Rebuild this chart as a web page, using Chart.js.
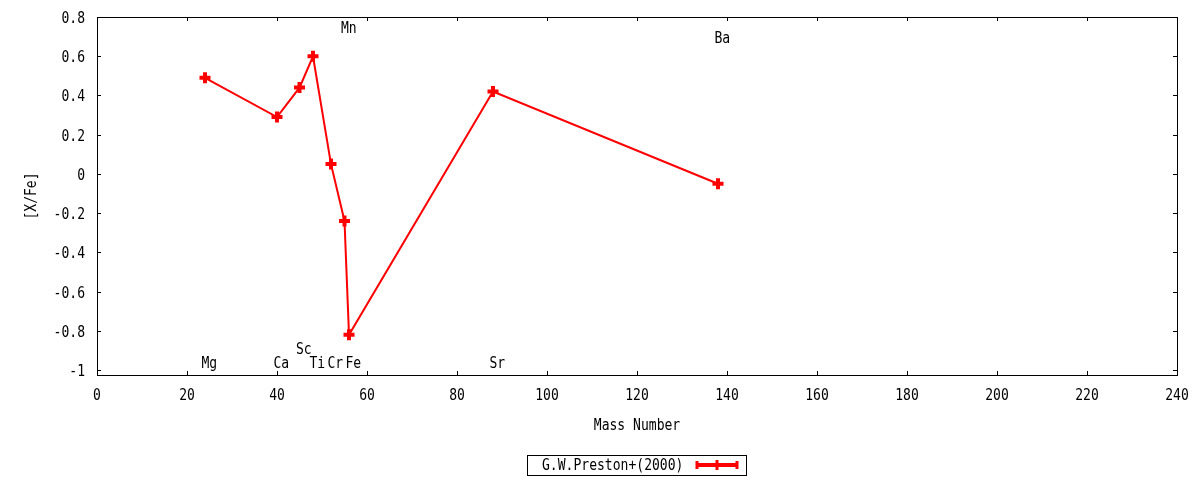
<!DOCTYPE html>
<html>
<head>
<meta charset="utf-8">
<title>[X/Fe] vs Mass Number</title>
<script src="https://cdn.jsdelivr.net/npm/chart.js@4"></script>
<style>
  html, body { margin: 0; padding: 0; background: #fff; }
  #wrap { width: 1200px; height: 480px; }
</style>
</head>
<body>
<div id="wrap"><canvas id="chart"></canvas></div>
<script>
// element abundances, G.W.Preston+(2000)
const elements = ['Mg', 'Ca', 'Sc', 'Ti', 'Cr', 'Mn', 'Fe', 'Sr', 'Ba'];
const massNumber = [24, 40, 45, 48, 52, 55, 56, 88, 138];
const xFe = [0.49, 0.29, 0.44, 0.60, 0.05, -0.24, -0.82, 0.42, -0.05];
// where each element name sits, in [X/Fe] units
const labelY = [-0.96, -0.96, -0.89, -0.96, -0.96, 0.75, -0.96, -0.96, 0.70];

const xTicks = [0, 20, 40, 60, 80, 100, 120, 140, 160, 180, 200, 220, 240];
const xTickLabels = ['0', '20', '40', '60', '80', '100', '120', '140', '160', '180', '200', '220', '240'];
const yTicks = [-1, -0.8, -0.6, -0.4, -0.2, 0, 0.2, 0.4, 0.6, 0.8];
const yTickLabels = ['-1', '-0.8', '-0.6', '-0.4', '-0.2', '0', '0.2', '0.4', '0.6', '0.8'];

const seriesLabel = 'G.W.Preston+(2000)';
const RED = '#ff0000';
const FONT = "15px 'DejaVu Sans Mono'";
const SQUEEZE = 0.87; // gnuplot's narrow mono text

// canvas 'middle' sits a touch high for this font
function text(ctx, str, x, y, align) {
    ctx.save();
    ctx.translate(x, y + 2);
    ctx.scale(SQUEEZE, 1);
    ctx.textAlign = align;
    ctx.fillText(str, 0, 0);
    ctx.restore();
}

const gnuplotFrame = {
    id: 'gnuplotFrame',
    afterDatasetsDraw(chart) {
        const { ctx, chartArea: a, scales: { x, y } } = chart;
        const tick = 4;
        ctx.save();

        // border + mirrored inward ticks
        ctx.strokeStyle = '#000';
        ctx.lineWidth = 1;
        ctx.strokeRect(a.left + 0.5, a.top + 0.5, a.right - a.left, a.bottom - a.top);
        ctx.beginPath();
        xTicks.forEach(v => {
            const px = Math.round(x.getPixelForValue(v)) + 0.5;
            ctx.moveTo(px, a.bottom); ctx.lineTo(px, a.bottom - tick);
            ctx.moveTo(px, a.top); ctx.lineTo(px, a.top + tick);
        });
        yTicks.forEach(v => {
            const py = Math.round(y.getPixelForValue(v)) + 0.5;
            ctx.moveTo(a.left, py); ctx.lineTo(a.left + tick, py);
            ctx.moveTo(a.right, py); ctx.lineTo(a.right - tick, py);
        });
        ctx.stroke();

        ctx.fillStyle = '#000';
        ctx.font = FONT;
        ctx.textBaseline = 'middle';

        // tick labels
        xTicks.forEach((v, i) => text(ctx, xTickLabels[i], x.getPixelForValue(v), a.bottom + 19, 'center'));
        yTicks.forEach((v, i) => text(ctx, yTickLabels[i], a.left - 12, y.getPixelForValue(v), 'right'));

        // element names
        elements.forEach((el, i) => {
            text(ctx, el, x.getPixelForValue(massNumber[i]) - 3.5, y.getPixelForValue(labelY[i]), 'left');
        });

        // axis titles
        text(ctx, 'Mass Number', (a.left + a.right) / 2, 424, 'center');
        ctx.save();
        ctx.translate(30, (a.top + a.bottom) / 2);
        ctx.rotate(-Math.PI / 2);
        text(ctx, '[X/Fe]', 0, 0, 'center');
        ctx.restore();

        // key box, gnuplot style
        ctx.strokeRect(527.5, 455.5, 219, 20);
        text(ctx, seriesLabel, 542, 464.5, 'left');
        ctx.strokeStyle = RED;
        ctx.lineWidth = 4;
        ctx.beginPath();
        ctx.moveTo(696, 465); ctx.lineTo(738, 465);
        ctx.stroke();
        ctx.lineWidth = 3;
        ctx.beginPath();
        ctx.moveTo(697, 461); ctx.lineTo(697, 469);
        ctx.moveTo(737, 461); ctx.lineTo(737, 469);
        ctx.moveTo(717, 460); ctx.lineTo(717, 470);
        ctx.stroke();

        ctx.restore();
    }
};

new Chart(document.getElementById('chart'), {
    type: 'line',
    data: {
        datasets: [{
            label: seriesLabel,
            data: massNumber.map((m, i) => ({ x: m, y: xFe[i] })),
            borderColor: RED,
            backgroundColor: RED,
            borderWidth: 2,
            tension: 0,
            fill: false,
            pointStyle: 'cross',
            pointRadius: 5.5,
            pointBorderWidth: 4,
            pointHoverRadius: 5.5
        }]
    },
    options: {
        responsive: true,
        maintainAspectRatio: false,
        animation: false,
        events: [],
        layout: { padding: { left: 0, top: 17, right: 23, bottom: 0 } },
        scales: {
            x: {
                type: 'linear',
                min: 0,
                max: 240,
                grid: { display: false, drawTicks: false },
                border: { display: false },
                afterBuildTicks: s => { s.ticks = xTicks.map(v => ({ value: v })); },
                afterFit: s => { s.height = 105; },
                ticks: { display: false }
            },
            y: {
                type: 'linear',
                min: -1.025,
                max: 0.8,
                grid: { display: false, drawTicks: false },
                border: { display: false },
                afterBuildTicks: s => { s.ticks = yTicks.map(v => ({ value: v })); },
                afterFit: s => { s.width = 97; },
                ticks: { display: false }
            }
        },
        plugins: {
            legend: { display: false },
            tooltip: { enabled: false }
        }
    },
    plugins: [gnuplotFrame]
});
</script>
</body>
</html>
